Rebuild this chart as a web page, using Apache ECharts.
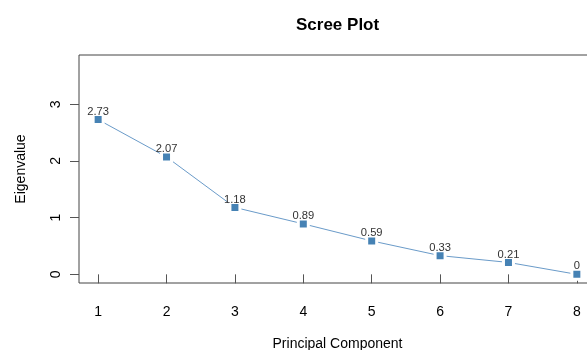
<!DOCTYPE html>
<html>
<head>
<meta charset="utf-8">
<script src="https://cdn.jsdelivr.net/npm/echarts@6/dist/echarts.min.js"></script>
<style>
html,body{margin:0;padding:0;background:#fff;}
#chart{width:587px;height:350px;}
</style>
</head>
<body>
<div id="chart"></div>
<script>
var components = [1, 2, 3, 4, 5, 6, 7, 8];
var eigenvalues = [2.73, 2.07, 1.18, 0.89, 0.59, 0.33, 0.21, 0];
var yTicks = [0, 1, 2, 3];
var xTicks = [1, 2, 3, 4, 5, 6, 7, 8];

var FONT = '"Liberation Sans", Arial, sans-serif';
var chart = echarts.init(document.getElementById('chart'), null, {renderer: 'canvas'});
chart.setOption({
  animation: false,
  backgroundColor: '#fff',
  title: {
    text: 'Scree Plot',
    left: 291, top: 12,
    textStyle: {fontFamily: FONT, fontSize: 17, fontWeight: 'bold', color: '#000'}
  },
  grid: {left: 79, top: 55, width: 517, height: 228, show: true, borderColor: '#444', borderWidth: 1,
         containLabel: false, outerBoundsMode: 'none'},
  xAxis: {
    type: 'value', min: 0.72, max: 8.28,
    name: 'Principal Component', nameLocation: 'middle', nameGap: 54,
    nameTextStyle: {fontFamily: FONT, fontSize: 14, color: '#000'},
    axisLine: {show: false},
    splitLine: {show: false},
    axisTick: {show: true, inside: false, length: 9, customValues: xTicks, lineStyle: {color: '#555'}},
    axisLabel: {customValues: xTicks, margin: 22, fontFamily: FONT, fontSize: 14, color: '#000'}
  },
  yAxis: {
    type: 'value', min: -0.153, max: 3.87,
    name: 'Eigenvalue', nameLocation: 'middle', nameGap: 51, nameRotate: 90,
    nameTextStyle: {fontFamily: FONT, fontSize: 14, color: '#000'},
    axisLine: {show: false},
    splitLine: {show: false},
    axisTick: {show: true, inside: false, length: 9, customValues: yTicks, lineStyle: {color: '#555'}},
    axisLabel: {customValues: yTicks, rotate: 90, margin: 16, fontFamily: FONT, fontSize: 14, color: '#000'}
  },
  series: [{
    type: 'line',
    data: components.map(function (c, i) { return [c, eigenvalues[i]]; }),
    symbol: 'rect', symbolSize: 10,
    lineStyle: {color: '#6a9bc9', width: 1},
    itemStyle: {color: '#4682B4', borderColor: '#fff', borderWidth: 3},
    label: {
      show: true, position: 'top', distance: -4,
      fontFamily: FONT, fontSize: 11.2, color: '#333',
      formatter: function (p) { return String(p.value[1]); }
    },
    clip: false
  }]
});
</script>
</body>
</html>
